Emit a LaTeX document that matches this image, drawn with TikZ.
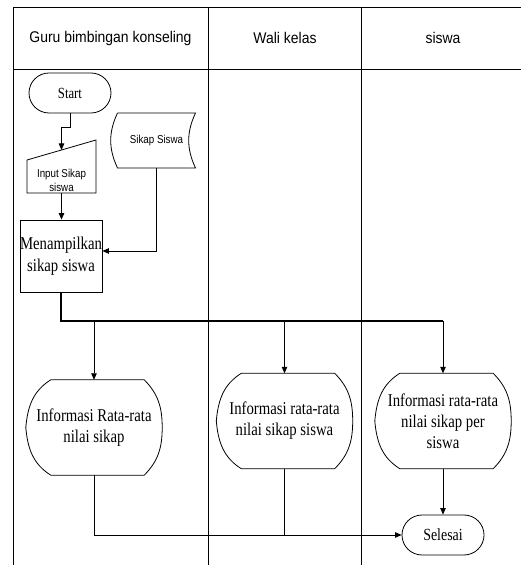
\documentclass[tikz,border=0pt]{standalone}
\usepackage{fontspec}
\usetikzlibrary{shapes.misc,arrows.meta,calc}
\newfontfamily\hdrfont{Liberation Sans}[FakeStretch=0.9]
\newfontfamily\smlfont{Liberation Sans}[FakeStretch=0.85]
\newfontfamily\txtfont{Liberation Serif}[FakeStretch=0.82]

\begin{document}
\begin{tikzpicture}[x=1pt,y=1pt]
                \tikzset{lane/.style={line width=0.9pt},
                         hdr/.style={font=\hdrfont\fontsize{15.5}{18}\selectfont},
                         term/.style={rounded rectangle, draw, line width=0.8pt, minimum width=82, minimum height=40, inner sep=0pt, font=\txtfont\fontsize{17}{20}\selectfont},
                         proc/.style={rectangle, draw, line width=0.8pt, minimum width=82, minimum height=72, inner sep=0pt, align=center, font=\txtfont\fontsize{18}{22}\selectfont},
                         disp/.style={minimum width=136, minimum height=95, inner sep=0pt, align=center, font=\txtfont\fontsize{18}{21}\selectfont},
                         small/.style={inner sep=0pt, align=center, font=\smlfont\fontsize{11.5}{14}\selectfont},
                         shape line/.style={line width=0.8pt},
                         flow/.style={line width=0.8pt, -{Triangle[length=6.5pt,width=5.5pt]}},
                         link/.style={line width=0.8pt},
                         trunk/.style={line width=1.8pt}}

                \useasboundingbox (0,0) rectangle (521,565);

                \draw[lane] (13,558) -- (521,558);
                \draw[lane] (13,496) -- (521,496);
                \foreach \x in {13,208,361}
                  \draw[lane] (\x,558) -- (\x,0);

                \node[hdr] (lane-guru) at (110.5,527) {Guru bimbingan konseling};
                \node[hdr] (lane-wali) at (285,527) {Wali kelas};
                \node[hdr] (lane-siswa) at (443,527) {siswa};

                \node[term, font=\txtfont\fontsize{15.5}{18}\selectfont] (start) at (70,472) {Start};

                \node[small] (input-sikap) at (61.5,385) {Input Sikap\\siswa};
                \draw[shape line] ($(input-sikap)+(-34.5,-13)$) -- ++(69,0) -- ++(0,53) -- ($(input-sikap)+(-34.5,20)$) -- cycle;

                \node[small] (sikap-siswa) at (156.5,424.5) {Sikap Siswa};
                \draw[shape line] ($(sikap-siswa)+(-39,27.5)$) -- ($(sikap-siswa)+(39,27.5)$) to[out=-115,in=115] ($(sikap-siswa)+(39,-27.5)$) -- ($(sikap-siswa)+(-39,-27.5)$) to[out=115,in=-115] ($(sikap-siswa)+(-39,27.5)$);

                \node[proc] (menampilkan) at (61,309) {Menampilkan\\sikap siswa};

                \draw[flow] (start.south) -- ++(0,-14) -| ($(input-sikap)+(0,30)$);
                \draw[flow] ($(input-sikap)+(0,-13)$) -- (input-sikap |- menampilkan.north);
                \draw[flow] ($(sikap-siswa)+(0,-27.5)$) |- ($(menampilkan.east)+(0,5)$);

                \node[disp] (info-guru) at (94,137.5) {Informasi Rata-rata\\nilai sikap};
                \node[disp] (info-wali) at (284.5,144) {Informasi rata-rata\\nilai sikap siswa};
                \node[disp] (info-siswa) at (443,144) {Informasi rata-rata\\nilai sikap per\\siswa};

                \foreach \n in {info-guru,info-wali,info-siswa}
                  \draw[shape line] ($(\n.north west)+(25,0)$) -- ($(\n.north east)+(-18,0)$) to[out=-45,in=90] (\n.east) to[out=-90,in=45] ($(\n.south east)+(-18,0)$) -- ($(\n.south west)+(25,0)$) to[out=148,in=-85] (\n.west) to[out=85,in=212] ($(\n.north west)+(25,0)$);

                \coordinate (split) at (61,244);
                \draw[trunk] (menampilkan.south) -- (split) -- (split -| info-siswa.north);
                \foreach \n in {info-guru,info-wali,info-siswa}
                  \draw[flow] (split -| \n.north) -- (\n.north);

                \node[term] (selesai) at (443,30) {Selesai};

                \draw[flow] (info-guru.south) |- (selesai.west);
                \draw[link] (info-wali.south) -- (info-wali.south |- selesai.west);
                \draw[flow] (info-siswa.south) -- (selesai.north);

\end{tikzpicture}
\end{document}
